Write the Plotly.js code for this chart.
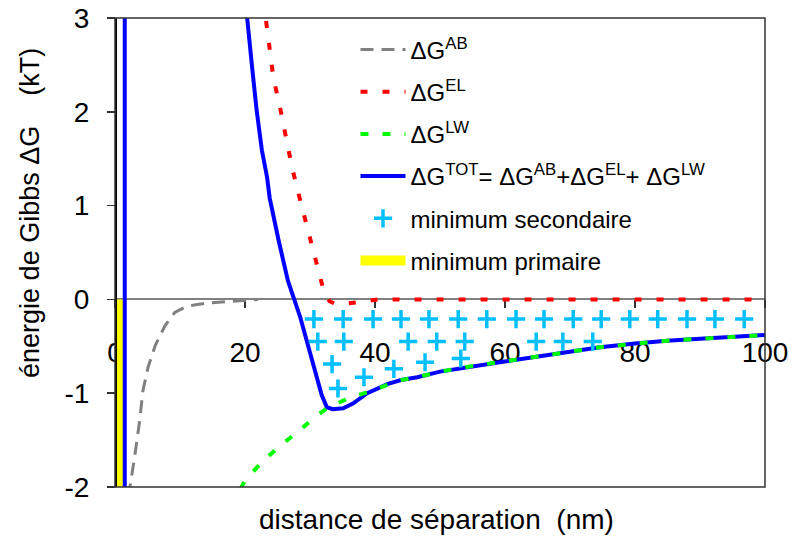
<!DOCTYPE html>
<html>
<head>
<meta charset="utf-8">
<script src="https://cdn.plot.ly/plotly-3.0.1.min.js"></script>
<style>body{margin:0;padding:0;background:#fff;}#chart{width:794px;height:539px;}</style>
</head>
<body>
<div id="chart"></div>
<script>
// ---- Data ----
const xTicks = [0, 20, 40, 60, 80, 100];
const yTicks = [-2, -1, 0, 1, 2, 3];

const abX = [2.2, 2.3, 3.1, 3.8, 4.3, 5.1, 6.2, 7.7, 9.2, 11.1, 14.2, 18.2, 21.2, 22];
const abY = [-2.1, -2.0, -1.64, -1.29, -0.97, -0.72, -0.49, -0.28, -0.14, -0.07, -0.04, -0.02, -0.01, 0];

const elX = [22.8, 23.5, 24.0, 24.4, 25.2, 25.8, 26.6, 27.2, 28.0, 29.0, 30.0, 31.0, 32.0, 33.0, 34.0, 35.0, 36.5, 38.5, 40.5, 50, 60, 70, 80, 90, 100];
const elY = [3.2, 2.81, 2.58, 2.35, 2.11, 1.89, 1.65, 1.42, 1.19, 0.92, 0.65, 0.38, 0.12, -0.02, -0.05, -0.05, -0.04, -0.02, 0, 0, 0, 0, 0, 0, 0];

const lwX = [19.3, 20.0, 22.8, 25.4, 28.0, 30.5, 32.6, 35.7, 38.8, 40.0, 42.0, 44.0, 46.5, 50, 55, 59.2, 66.9, 74.6, 80, 84.9, 90, 95.1, 100];
const lwY = [-2.02, -1.93, -1.72, -1.56, -1.42, -1.27, -1.16, -1.06, -0.99, -0.96, -0.9, -0.86, -0.83, -0.77, -0.71, -0.67, -0.59, -0.51, -0.47, -0.44, -0.42, -0.40, -0.38];

const totX = [1.5, 1.5, 19.9, 20.3, 21.1, 21.8, 22.6, 23.4, 23.8, 25.2, 26.6, 28.5, 30.5, 31.8, 32.6, 33.5, 35.1, 36.6, 38.8, 40.0, 42.0, 44.0, 46.5, 50, 55, 59.2, 66.9, 74.6, 80, 84.9, 90, 95.1, 100];
const totY = [-10, 10, 3.3, 3.0, 2.47, 2.01, 1.59, 1.30, 1.08, 0.62, 0.2, -0.19, -0.68, -1.02, -1.15, -1.17, -1.16, -1.11, -1.0, -0.96, -0.9, -0.86, -0.83, -0.77, -0.71, -0.67, -0.59, -0.51, -0.47, -0.44, -0.42, -0.40, -0.38];

const secX = [30.6, 35.1, 39.7, 44.0, 48.3, 52.8, 57.2, 61.7, 66.0, 70.5, 74.8, 79.2, 83.5, 88.0, 92.3, 96.8,
              31.2, 35.2, 45.1, 49.5, 53.8, 64.8, 68.9, 73.5,
              33.4, 38.3, 42.9, 47.7, 53.2, 34.3];
const secY = [-0.21, -0.21, -0.21, -0.21, -0.21, -0.21, -0.21, -0.21, -0.21, -0.21, -0.21, -0.21, -0.21, -0.21, -0.21, -0.21,
              -0.45, -0.45, -0.45, -0.45, -0.45, -0.45, -0.45, -0.45,
              -0.69, -0.83, -0.74, -0.67, -0.63, -0.95];

const primX = [0, 1.4, 1.4, 0, 0];
const primY = [0, 0, -2, -2, 0];

const names = {
  ab: 'ΔG<sup>AB</sup>',
  el: 'ΔG<sup>EL</sup>',
  lw: 'ΔG<sup>LW</sup>',
  tot: 'ΔG<sup>TOT</sup>= ΔG<sup>AB</sup>+ΔG<sup>EL</sup>+ ΔG<sup>LW</sup>',
  sec: 'minimum secondaire',
  prim: 'minimum primaire'
};

const FONT = '"Liberation Sans", Arial, Helvetica, sans-serif';

const traces = [
  {x: primX, y: primY, type: 'scatter', mode: 'none', fill: 'toself', fillcolor: '#ffff00',
   name: names.prim, legendgroup: 'g6', showlegend: false},
  // legend key for the primary-minimum band (no data of its own)
  {x: [null], y: [null], type: 'scatter', mode: 'lines', name: names.prim, legendgroup: 'g6', legendrank: 6,
   line: {color: '#ffff00', width: 20}},
  {x: abX, y: abY, type: 'scatter', mode: 'lines', name: names.ab, legendgroup: 'g1', legendrank: 1,
   line: {color: '#808080', width: 3, dash: '13px,8px'}},
  {x: totX, y: totY, type: 'scatter', mode: 'lines', name: names.tot, legendgroup: 'g4', legendrank: 4,
   line: {color: '#0000ff', width: 4}},
  {x: elX, y: elY, type: 'scatter', mode: 'lines', name: names.el, legendgroup: 'g2', legendrank: 2,
   line: {color: '#ff0000', width: 4, dash: '7px,15px'}},
  {x: lwX, y: lwY, type: 'scatter', mode: 'lines', name: names.lw, legendgroup: 'g3', legendrank: 3,
   line: {color: '#00ff00', width: 4, dash: '8px,14px'}},
  {x: secX, y: secY, type: 'scatter', mode: 'markers', name: names.sec, legendgroup: 'g5', legendrank: 5,
   marker: {symbol: 'cross-thin', size: 13, line: {color: '#00bfff', width: 3.5}}}
];

const layout = {
  width: 794, height: 539,
  margin: {l: 115, r: 29, t: 18, b: 52, pad: 0},
  paper_bgcolor: '#ffffff', plot_bgcolor: '#ffffff',
  font: {family: FONT, color: '#000', size: 24},
  showlegend: true,
  legend: {x: 0.37, y: 0.98, xanchor: 'left', yanchor: 'top', bgcolor: 'rgba(0,0,0,0)',
           font: {family: FONT, size: 24, color: '#000'}, tracegroupgap: 8, itemwidth: 45},
  xaxis: {
    range: [0, 100], anchor: 'free', position: 0.4,
    showline: true, linecolor: '#808080', linewidth: 2,
    ticks: 'outside', ticklen: 8, tickwidth: 1.5, tickcolor: '#333',
    tickmode: 'array', tickvals: xTicks, ticktext: xTicks.map(String),
    tickfont: {family: FONT, size: 28, color: '#000'},
    ticklabelstandoff: 20,
    showgrid: false, zeroline: false, layer: 'below traces', fixedrange: true
  },
  yaxis: {
    range: [-2, 3], anchor: 'free', position: 0,
    showline: true, linecolor: '#000', linewidth: 1.5,
    ticks: 'outside', ticklen: 8, tickwidth: 1.5, tickcolor: '#333',
    tickmode: 'array', tickvals: yTicks, ticktext: yTicks.map(String),
    tickfont: {family: FONT, size: 28, color: '#000'},
    ticklabelstandoff: 12,
    showgrid: false, zeroline: false, fixedrange: true
  },
  shapes: [
    {type: 'rect', xref: 'paper', yref: 'paper', x0: 0, x1: 1, y0: 0, y1: 1,
     line: {color: '#333', width: 1.5}, layer: 'above'}
  ],
  annotations: [
    {text: 'distance de séparation  (nm)', xref: 'paper', yref: 'paper', x: 0.495, y: -0.07,
     xanchor: 'center', yanchor: 'middle', showarrow: false, font: {family: FONT, size: 28, color: '#000'}},
    {text: 'énergie de Gibbs ΔG    (kT)', xref: 'paper', yref: 'paper', x: -0.131, y: 0.584,
     xanchor: 'center', yanchor: 'middle', textangle: -90, showarrow: false,
     font: {family: FONT, size: 27, color: '#000'}}
  ]
};

Plotly.newPlot('chart', traces, layout, {staticPlot: true, displayModeBar: false});
</script>
</body>
</html>
